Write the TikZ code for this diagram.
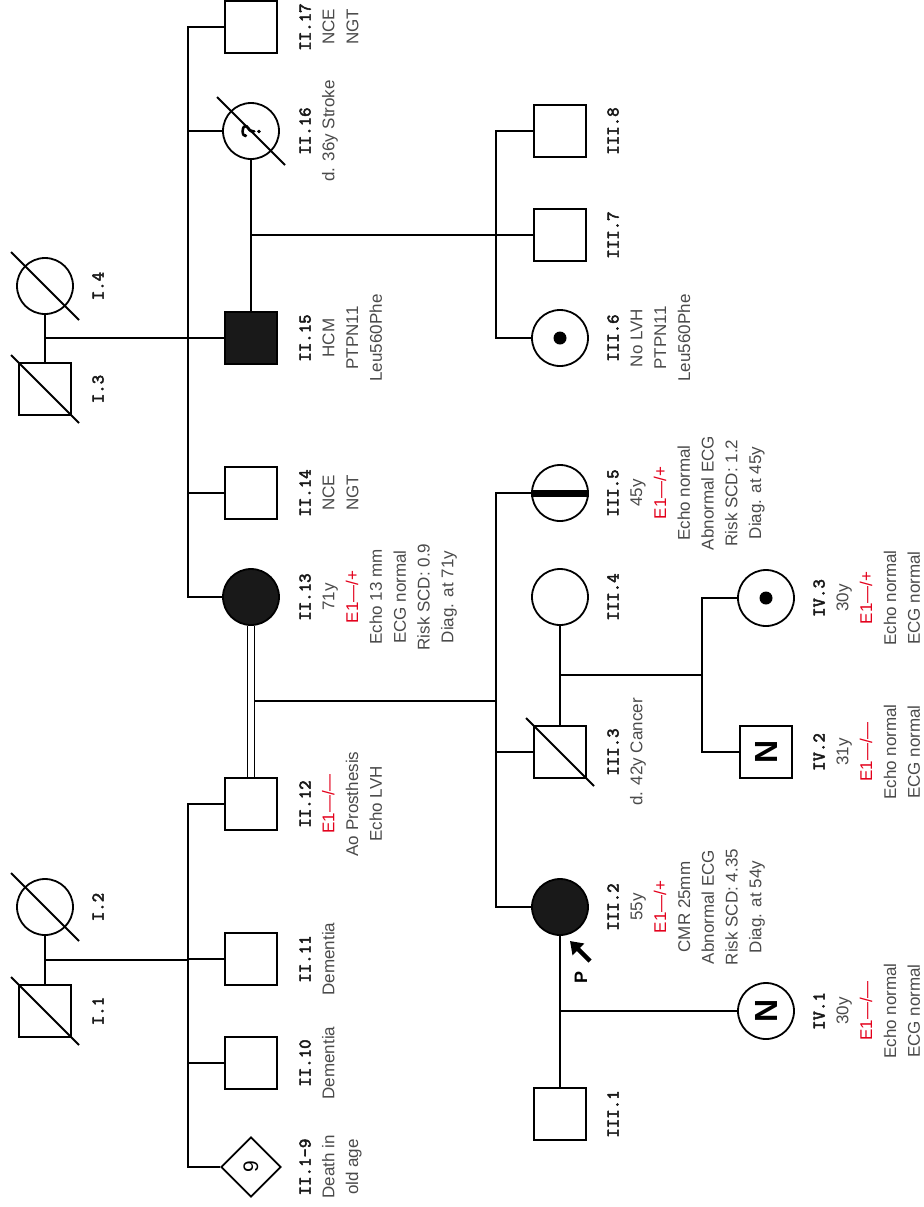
\documentclass[tikz,border=0pt]{standalone}
\usepackage{fontspec}
\setsansfont{Liberation Sans}
\newfontfamily\idfont{Latin Modern Mono}[FakeBold=2.5]
\usepackage{tikz}
\usepackage{xcolor}
\usetikzlibrary{calc}
\usetikzlibrary{shapes.geometric}
\usetikzlibrary{arrows.meta}

\definecolor{txtgray}{HTML}{4A4A4A}
\definecolor{genered}{HTML}{E3001B}
\newcommand{\idlbl}[1]{{\idfont\fontsize{9}{11.9}\selectfont\color{black!90}#1}}
\newcommand{\geno}[1]{{\color{genered}#1}}
\newcommand{\deceased}[1]{\draw[link] ($(#1)+(-34,-34)$) -- ($(#1)+(34,34)$);}

\tikzset{>=latex}
\tikzstyle{link} = [line width=0.9pt]
\tikzstyle{male} = [draw, rectangle, minimum size=26pt, inner sep=0pt, line width=0.9pt]
\tikzstyle{female} = [draw, circle, minimum size=28pt, inner sep=0pt, line width=0.9pt]
\tikzstyle{unknown} = [draw, diamond, minimum size=30pt, inner sep=0pt, line width=0.9pt]
\tikzstyle{affected} = [fill=black!90]
\tikzstyle{info} = [rotate=90, anchor=north, align=center, inner sep=0pt, text=txtgray, font=\sffamily\fontsize{8.5}{11.9}\selectfont]
\tikzstyle{proband} = [line width=2.2pt, -{Triangle[length=6pt, width=8pt]}]

\begin{document}
\begin{tikzpicture}[x=0.5pt, y=-0.5pt]
    \useasboundingbox (0,0) rectangle (923,1207);

    % Generation I
    \node[male] (I1) at (45,1011) {};
    \node[female] (I2) at (45,907) {};
    \node[male] (I3) at (45,389) {};
    \node[female] (I4) at (45,286) {};

    % Generation II
    \node[unknown, rotate=90] (II9) at (251,1167) {\sffamily\fontsize{10.5}{10.5}\selectfont 9};
    \node[male] (II10) at (251,1063) {};
    \node[male] (II11) at (251,959) {};
    \node[male] (II12) at (251,804) {};
    \node[female, affected] (II13) at (251,597) {};
    \node[male] (II14) at (251,493) {};
    \node[male, affected] (II15) at (251,338) {};
    \node[female, rotate=90] (II16) at (251,131) {\idfont\fontsize{15}{15}\selectfont ?};
    \node[male] (II17) at (251,27) {};

    % Generation III
    \node[male] (III1) at (560,1114) {};
    \node[female, affected] (III2) at (560,907) {};
    \node[male] (III3) at (560,752) {};
    \node[female] (III4) at (560,597) {};
    \node[female] (III5) at (560,493) {};
    \node[female] (III6) at (560,338) {};
    \node[male] (III7) at (560,235) {};
    \node[male] (III8) at (560,131) {};

    % Generation IV
    \node[female, rotate=90] (IV1) at (766,1011) {\sffamily\bfseries\fontsize{16}{16}\selectfont N};
    \node[male, rotate=90] (IV2) at (766,752) {\sffamily\bfseries\fontsize{16}{16}\selectfont N};
    \node[female] (IV3) at (766,598) {};

    % deceased and carrier marks
    \deceased{I1}
    \deceased{I2}
    \deceased{I3}
    \deceased{I4}
    \deceased{II16}
    \deceased{III3}
    \fill (III6) circle (6.5);
    \fill (IV3) circle (6.5);
    \draw[line width=3.5pt] (III5.west) -- (III5.east);

    % junctions
    \coordinate (m1) at (45,960);
    \coordinate (s1) at (188,960);
    \coordinate (m2) at (45,338);
    \coordinate (s2) at (188,338);
    \coordinate (m3) at (251,235);
    \coordinate (s3) at (496,235);
    \coordinate (m4) at (251,701);
    \coordinate (s4) at (496,701);
    \coordinate (m5) at (560,675);
    \coordinate (s5) at (702,675);
    \coordinate (m6) at (560,1011);

    % I.1 x I.2
    \draw[link] (I1) -- (I2);
    \draw[link] (m1) -- (s1);
    \foreach \c in {II9, II10, II11, II12}
        \draw[link] (\c) -| (s1);

    % I.3 x I.4
    \draw[link] (I3) -- (I4);
    \draw[link] (m2) -- (s2);
    \foreach \c in {II13, II14, II15, II16, II17}
        \draw[link] (\c) -| (s2);

    % II.15 x II.16
    \draw[link] (II16) -- (II15);
    \draw[link] (m3) -- (s3);
    \foreach \c in {III6, III7, III8}
        \draw[link] (\c) -| (s3);

    % II.12 x II.13 (consanguineous)
    \draw[link] (m4) -- (s4);
    \foreach \c in {III2, III3, III5}
        \draw[link] (\c) -| (s4);
    \draw[line width=0.8pt, double, double distance=2.6pt] (II13) -- (II12);

    % III.3 x III.4
    \draw[link] (III4) -- (III3);
    \draw[link] (m5) -- (s5);
    \foreach \c in {IV2, IV3}
        \draw[link] (\c) -| (s5);

    % III.1 x III.2
    \draw[link] (III2) -- (III1);
    \draw[link] (m6) -- (IV1);

    % proband
    \coordinate (ptail) at (590,961);
    \coordinate (ptip) at (570,941);
    \draw[proband] (ptail) -- (ptip);
    \node[rotate=90, inner sep=0pt, font=\sffamily\bfseries\fontsize{9}{9}\selectfont] (plbl) at (581,977) {P};

    % labels
    \node[info] (I1txt) at ([xshift=23.5pt]I1.center) {\idlbl{I.1}};
    \node[info] (I2txt) at ([xshift=23.5pt]I2.center) {\idlbl{I.2}};
    \node[info] (I3txt) at ([xshift=23.5pt]I3.center) {\idlbl{I.3}};
    \node[info] (I4txt) at ([xshift=23.5pt]I4.center) {\idlbl{I.4}};

    \node[info] (II9txt) at ([xshift=24pt]II9.center) {\idlbl{II.1-9}\\Death in\\old age};
    \node[info] (II10txt) at ([xshift=24pt]II10.center) {\idlbl{II.10}\\Dementia};
    \node[info] (II11txt) at ([xshift=24pt]II11.center) {\idlbl{II.11}\\Dementia};
    \node[info] (II12txt) at ([xshift=24pt]II12.center) {\idlbl{II.12}\\\geno{E1—/—}\\Ao Prosthesis\\Echo LVH};
    \node[info] (II13txt) at ([xshift=24pt]II13.center) {\idlbl{II.13}\\71y\\\geno{E1—/+}\\Echo 13 mm\\ECG normal\\Risk SCD: 0.9\\Diag. at 71y};
    \node[info] (II14txt) at ([xshift=24pt]II14.center) {\idlbl{II.14}\\NCE\\NGT};
    \node[info] (II15txt) at ([xshift=24pt]II15.center) {\idlbl{II.15}\\HCM\\PTPN11\\Leu560Phe};
    \node[info] (II16txt) at ([xshift=24pt]II16.center) {\idlbl{II.16}\\d. 36y Stroke};
    \node[info] (II17txt) at ([xshift=24pt]II17.center) {\idlbl{II.17}\\NCE\\NGT};

    \node[info] (III1txt) at ([xshift=23.5pt]III1.center) {\idlbl{III.1}};
    \node[info] (III2txt) at ([xshift=23.5pt]III2.center) {\idlbl{III.2}\\55y\\\geno{E1—/+}\\CMR 25mm\\Abnormal ECG\\Risk SCD: 4.35\\Diag. at 54y};
    \node[info] (III3txt) at ([xshift=23.5pt]III3.center) {\idlbl{III.3}\\d. 42y Cancer};
    \node[info] (III4txt) at ([xshift=23.5pt]III4.center) {\idlbl{III.4}};
    \node[info] (III5txt) at ([xshift=23.5pt]III5.center) {\idlbl{III.5}\\45y\\\geno{E1—/+}\\Echo normal\\Abnormal ECG\\Risk SCD: 1.2\\Diag. at 45y};
    \node[info] (III6txt) at ([xshift=23.5pt]III6.center) {\idlbl{III.6}\\No LVH\\PTPN11\\Leu560Phe};
    \node[info] (III7txt) at ([xshift=23.5pt]III7.center) {\idlbl{III.7}};
    \node[info] (III8txt) at ([xshift=23.5pt]III8.center) {\idlbl{III.8}};

    \node[info] (IV1txt) at ([xshift=23.5pt]IV1.center) {\idlbl{IV.1}\\30y\\\geno{E1—/—}\\Echo normal\\ECG normal};
    \node[info] (IV2txt) at ([xshift=23.5pt]IV2.center) {\idlbl{IV.2}\\31y\\\geno{E1—/—}\\Echo normal\\ECG normal};
    \node[info] (IV3txt) at ([xshift=23.5pt]IV3.center) {\idlbl{IV.3}\\30y\\\geno{E1—/+}\\Echo normal\\ECG normal};
\end{tikzpicture}
\end{document}
